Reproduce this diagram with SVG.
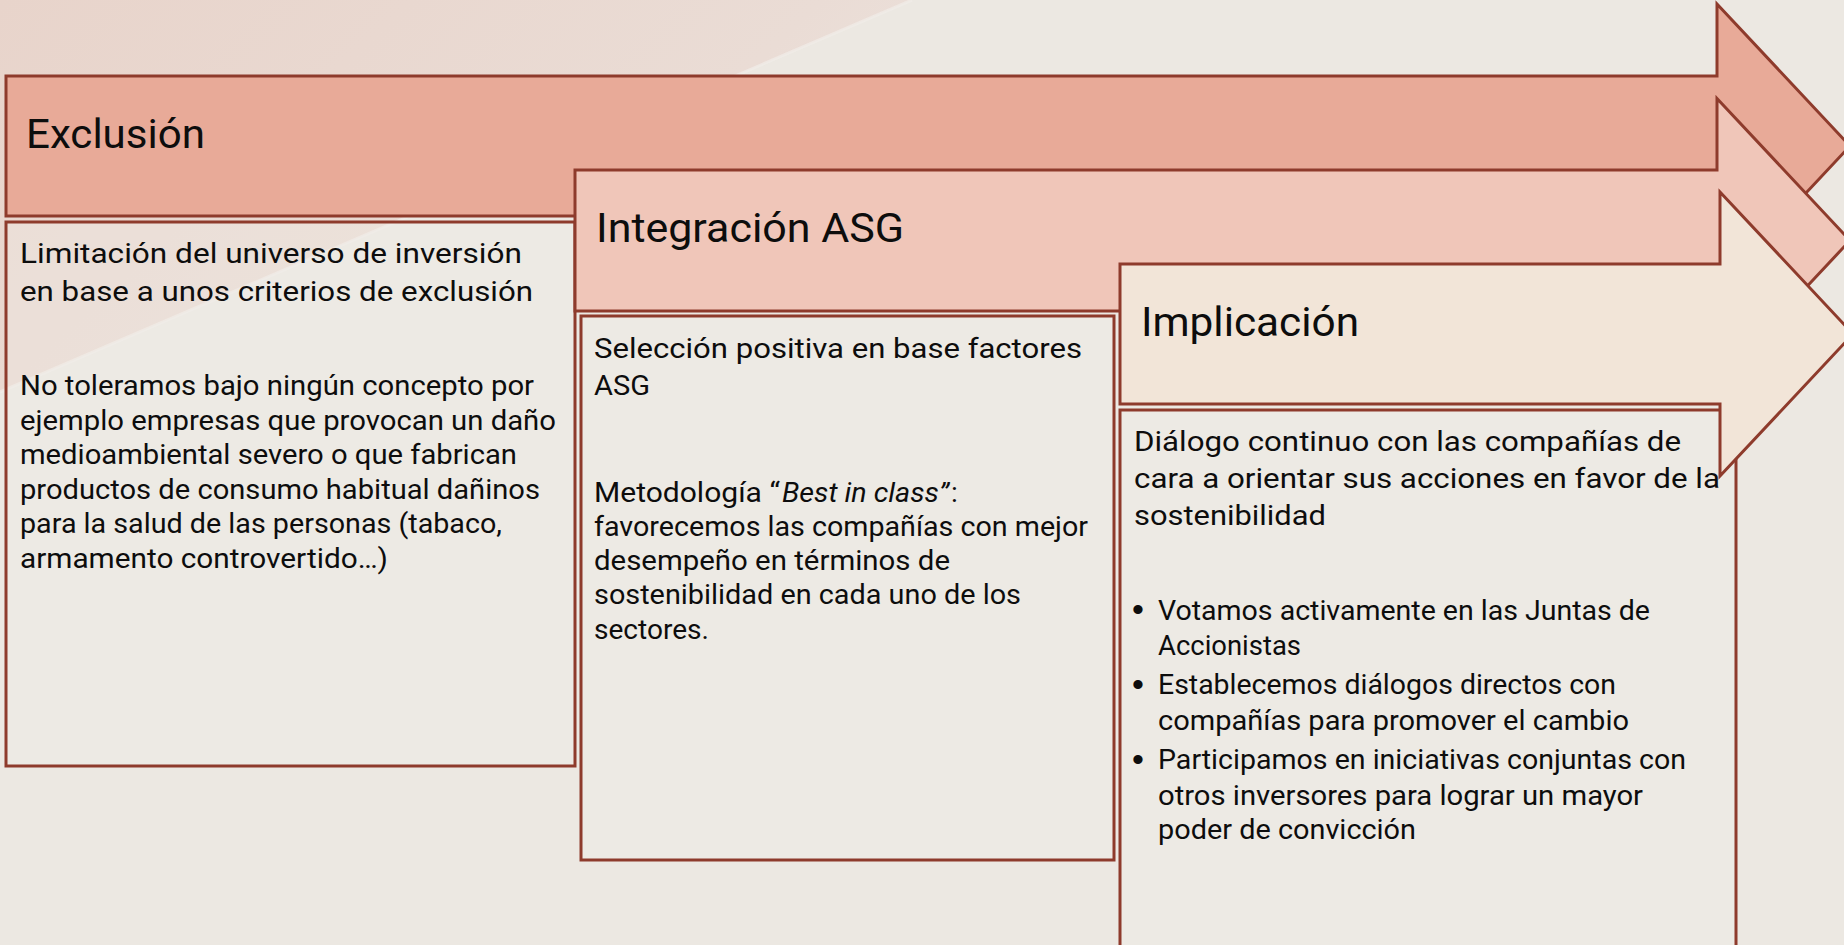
<svg xmlns="http://www.w3.org/2000/svg" width="1844" height="945" viewBox="0 0 1844 945">
  <style>
    .arrow { stroke: #8E3B2C; stroke-width: 3; stroke-linejoin: miter; }
    .box { fill: #F1EDE8; fill-opacity: 0.35; stroke: #8E3B2C; stroke-width: 3; }
    .title { font-family: Roboto, "Open Sans", "Liberation Sans", sans-serif; font-size: 40px; fill: #0D0D0D; }
    .body { font-family: Roboto, "Open Sans", "Liberation Sans", sans-serif; font-size: 28px; fill: #0D0D0D; }
    .bul { font-family: "Liberation Sans", Arial, sans-serif; font-size: 34px; fill: #0D0D0D; }
    .it { font-style: italic; }
  </style>
  <defs>
    <linearGradient id="bgPink" x1="0" y1="0" x2="1" y2="0.45">
      <stop offset="0" stop-color="#E8D4CB"/>
      <stop offset="0.75" stop-color="#EADCD5"/>
      <stop offset="1" stop-color="#ECE2DC"/>
    </linearGradient>
  </defs>

  <!-- background -->
  <rect x="0" y="0" width="1844" height="945" fill="#ECE8E2"/>
  <polygon points="0,0 912,0 0,392" fill="url(#bgPink)"/>
  <line x1="912" y1="0" x2="0" y2="392" stroke="#F1ECE8" stroke-width="3" stroke-opacity="0.7"/>

  <g id="connectors"></g>

  <!-- Exclusión -->
  <g id="node-exclusion-arrow">
    <path class="arrow" fill="#E8AA98" d="M6,76 L1717,76 L1717,4 L1850,146 L1717,288 L1717,216 L6,216 Z"/>
    <text class="title" x="26" y="148" textLength="179" lengthAdjust="spacingAndGlyphs">Exclusión</text>
  </g>
  <g id="node-exclusion-box">
    <rect class="box" x="6" y="222" width="569" height="544"/>
    <text class="body" x="20" y="263" textLength="502" lengthAdjust="spacingAndGlyphs">Limitación del universo de inversión</text>
    <text class="body" x="20" y="300.5" textLength="513" lengthAdjust="spacingAndGlyphs">en base a unos criterios de exclusión</text>
    <text class="body" x="20" y="395" textLength="514" lengthAdjust="spacingAndGlyphs">No toleramos bajo ningún concepto por</text>
    <text class="body" x="20" y="429.5" textLength="536" lengthAdjust="spacingAndGlyphs">ejemplo empresas que provocan un daño</text>
    <text class="body" x="20" y="464" textLength="497" lengthAdjust="spacingAndGlyphs">medioambiental severo o que fabrican</text>
    <text class="body" x="20" y="498.5" textLength="520" lengthAdjust="spacingAndGlyphs">productos de consumo habitual dañinos</text>
    <text class="body" x="20" y="533" textLength="482" lengthAdjust="spacingAndGlyphs">para la salud de las personas (tabaco,</text>
    <text class="body" x="20" y="567.5" textLength="368" lengthAdjust="spacingAndGlyphs">armamento controvertido…)</text>
  </g>

  <!-- Integración ASG -->
  <g id="node-integracion-arrow">
    <path class="arrow" fill="#F0C6B9" d="M575,170 L1717,170 L1717,98.5 L1850,240.5 L1717,382.5 L1717,311 L575,311 Z"/>
    <text class="title" x="596" y="242" textLength="308" lengthAdjust="spacingAndGlyphs">Integración ASG</text>
  </g>
  <g id="node-integracion-box">
    <rect class="box" x="581" y="316" width="533" height="544"/>
    <text class="body" x="594" y="357.5" textLength="488" lengthAdjust="spacingAndGlyphs">Selección positiva en base factores</text>
    <text class="body" x="594" y="394.5" textLength="56" lengthAdjust="spacingAndGlyphs">ASG</text>
    <text class="body" x="594" y="501.5" textLength="186" lengthAdjust="spacingAndGlyphs">Metodología “</text>
    <text class="body it" x="782" y="501.5" textLength="167" lengthAdjust="spacingAndGlyphs">Best in class”</text>
    <text class="body" x="951" y="501.5">:</text>
    <text class="body" x="594" y="535.5" textLength="494" lengthAdjust="spacingAndGlyphs">favorecemos las compañías con mejor</text>
    <text class="body" x="594" y="570" textLength="356" lengthAdjust="spacingAndGlyphs">desempeño en términos de</text>
    <text class="body" x="594" y="604" textLength="427" lengthAdjust="spacingAndGlyphs">sostenibilidad en cada uno de los</text>
    <text class="body" x="594" y="638.5" textLength="115" lengthAdjust="spacingAndGlyphs">sectores.</text>
  </g>

  <!-- Implicación -->
  <g id="node-implicacion-box">
    <rect class="box" x="1120" y="410" width="616" height="544"/>
    <text class="body" x="1134" y="450.5" textLength="547" lengthAdjust="spacingAndGlyphs">Diálogo continuo con las compañías de</text>
    <text class="body" x="1134" y="488" textLength="586" lengthAdjust="spacingAndGlyphs">cara a orientar sus acciones en favor de la</text>
    <text class="body" x="1134" y="525" textLength="192" lengthAdjust="spacingAndGlyphs">sostenibilidad</text>
    <text class="bul" x="1132" y="621">•</text>
    <text class="body" x="1158" y="619.5" textLength="492" lengthAdjust="spacingAndGlyphs">Votamos activamente en las Juntas de</text>
    <text class="body" x="1158" y="654.5" textLength="143" lengthAdjust="spacingAndGlyphs">Accionistas</text>
    <text class="bul" x="1132" y="695.5">•</text>
    <text class="body" x="1158" y="694" textLength="458" lengthAdjust="spacingAndGlyphs">Establecemos diálogos directos con</text>
    <text class="body" x="1158" y="729.5" textLength="471" lengthAdjust="spacingAndGlyphs">compañías para promover el cambio</text>
    <text class="bul" x="1132" y="770.5">•</text>
    <text class="body" x="1158" y="769" textLength="528" lengthAdjust="spacingAndGlyphs">Participamos en iniciativas conjuntas con</text>
    <text class="body" x="1158" y="804.5" textLength="485" lengthAdjust="spacingAndGlyphs">otros inversores para lograr un mayor</text>
    <text class="body" x="1158" y="838.5" textLength="258" lengthAdjust="spacingAndGlyphs">poder de convicción</text>
  </g>
  <g id="node-implicacion-arrow">
    <path class="arrow" fill="#F2E5D8" d="M1120,264 L1720,264 L1720,192 L1853,334 L1720,476 L1720,404 L1120,404 Z"/>
    <text class="title" x="1141" y="336" textLength="218" lengthAdjust="spacingAndGlyphs">Implicación</text>
  </g>
</svg>
